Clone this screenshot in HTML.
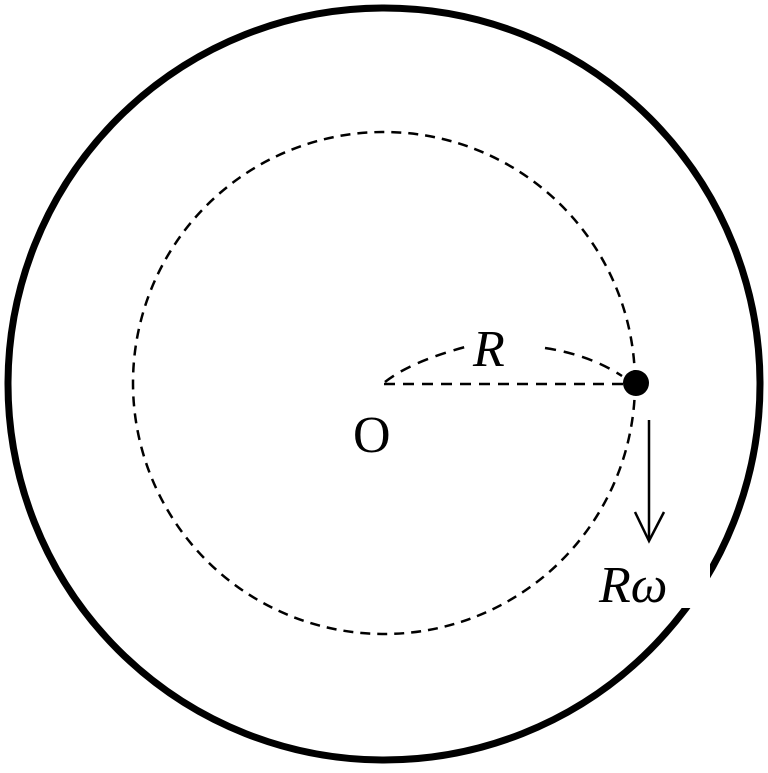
<!DOCTYPE html>
<html><head><style>html,body{margin:0;padding:0;background:#fff}
text{font-family:"Liberation Serif","Times New Roman",serif}</style></head>
<body>
<svg width="768" height="768" viewBox="0 0 768 768" xmlns="http://www.w3.org/2000/svg">
<circle cx="384" cy="384" r="376" fill="none" stroke="#000" stroke-width="7"/>
<rect x="596" y="560" width="114" height="48" fill="#fff"/>
<circle cx="384" cy="383" r="251" fill="none" stroke="#000" stroke-width="2.5" stroke-dasharray="10,7"/>
<line x1="384" y1="384" x2="630" y2="384" stroke="#000" stroke-width="2.5" stroke-dasharray="11,8"/>
<path d="M385 382 Q410 362 465 347" fill="none" stroke="#000" stroke-width="2.5" stroke-dasharray="11,8"/>
<path d="M545 348 Q590 355 622 376" fill="none" stroke="#000" stroke-width="2.5" stroke-dasharray="11,8"/>
<circle cx="636" cy="383" r="13" fill="#000"/>
<line x1="649" y1="420" x2="649" y2="540" stroke="#000" stroke-width="2.5"/>
<polyline points="635,512 649,541 664,512" fill="none" stroke="#000" stroke-width="2.5"/>
<text x="473" y="366" font-style="italic" font-size="52">R</text>
<text x="353" y="452" font-size="52">O</text>
<text x="599" y="602" font-style="italic" font-size="52">Rω</text>
</svg>
</body></html>
